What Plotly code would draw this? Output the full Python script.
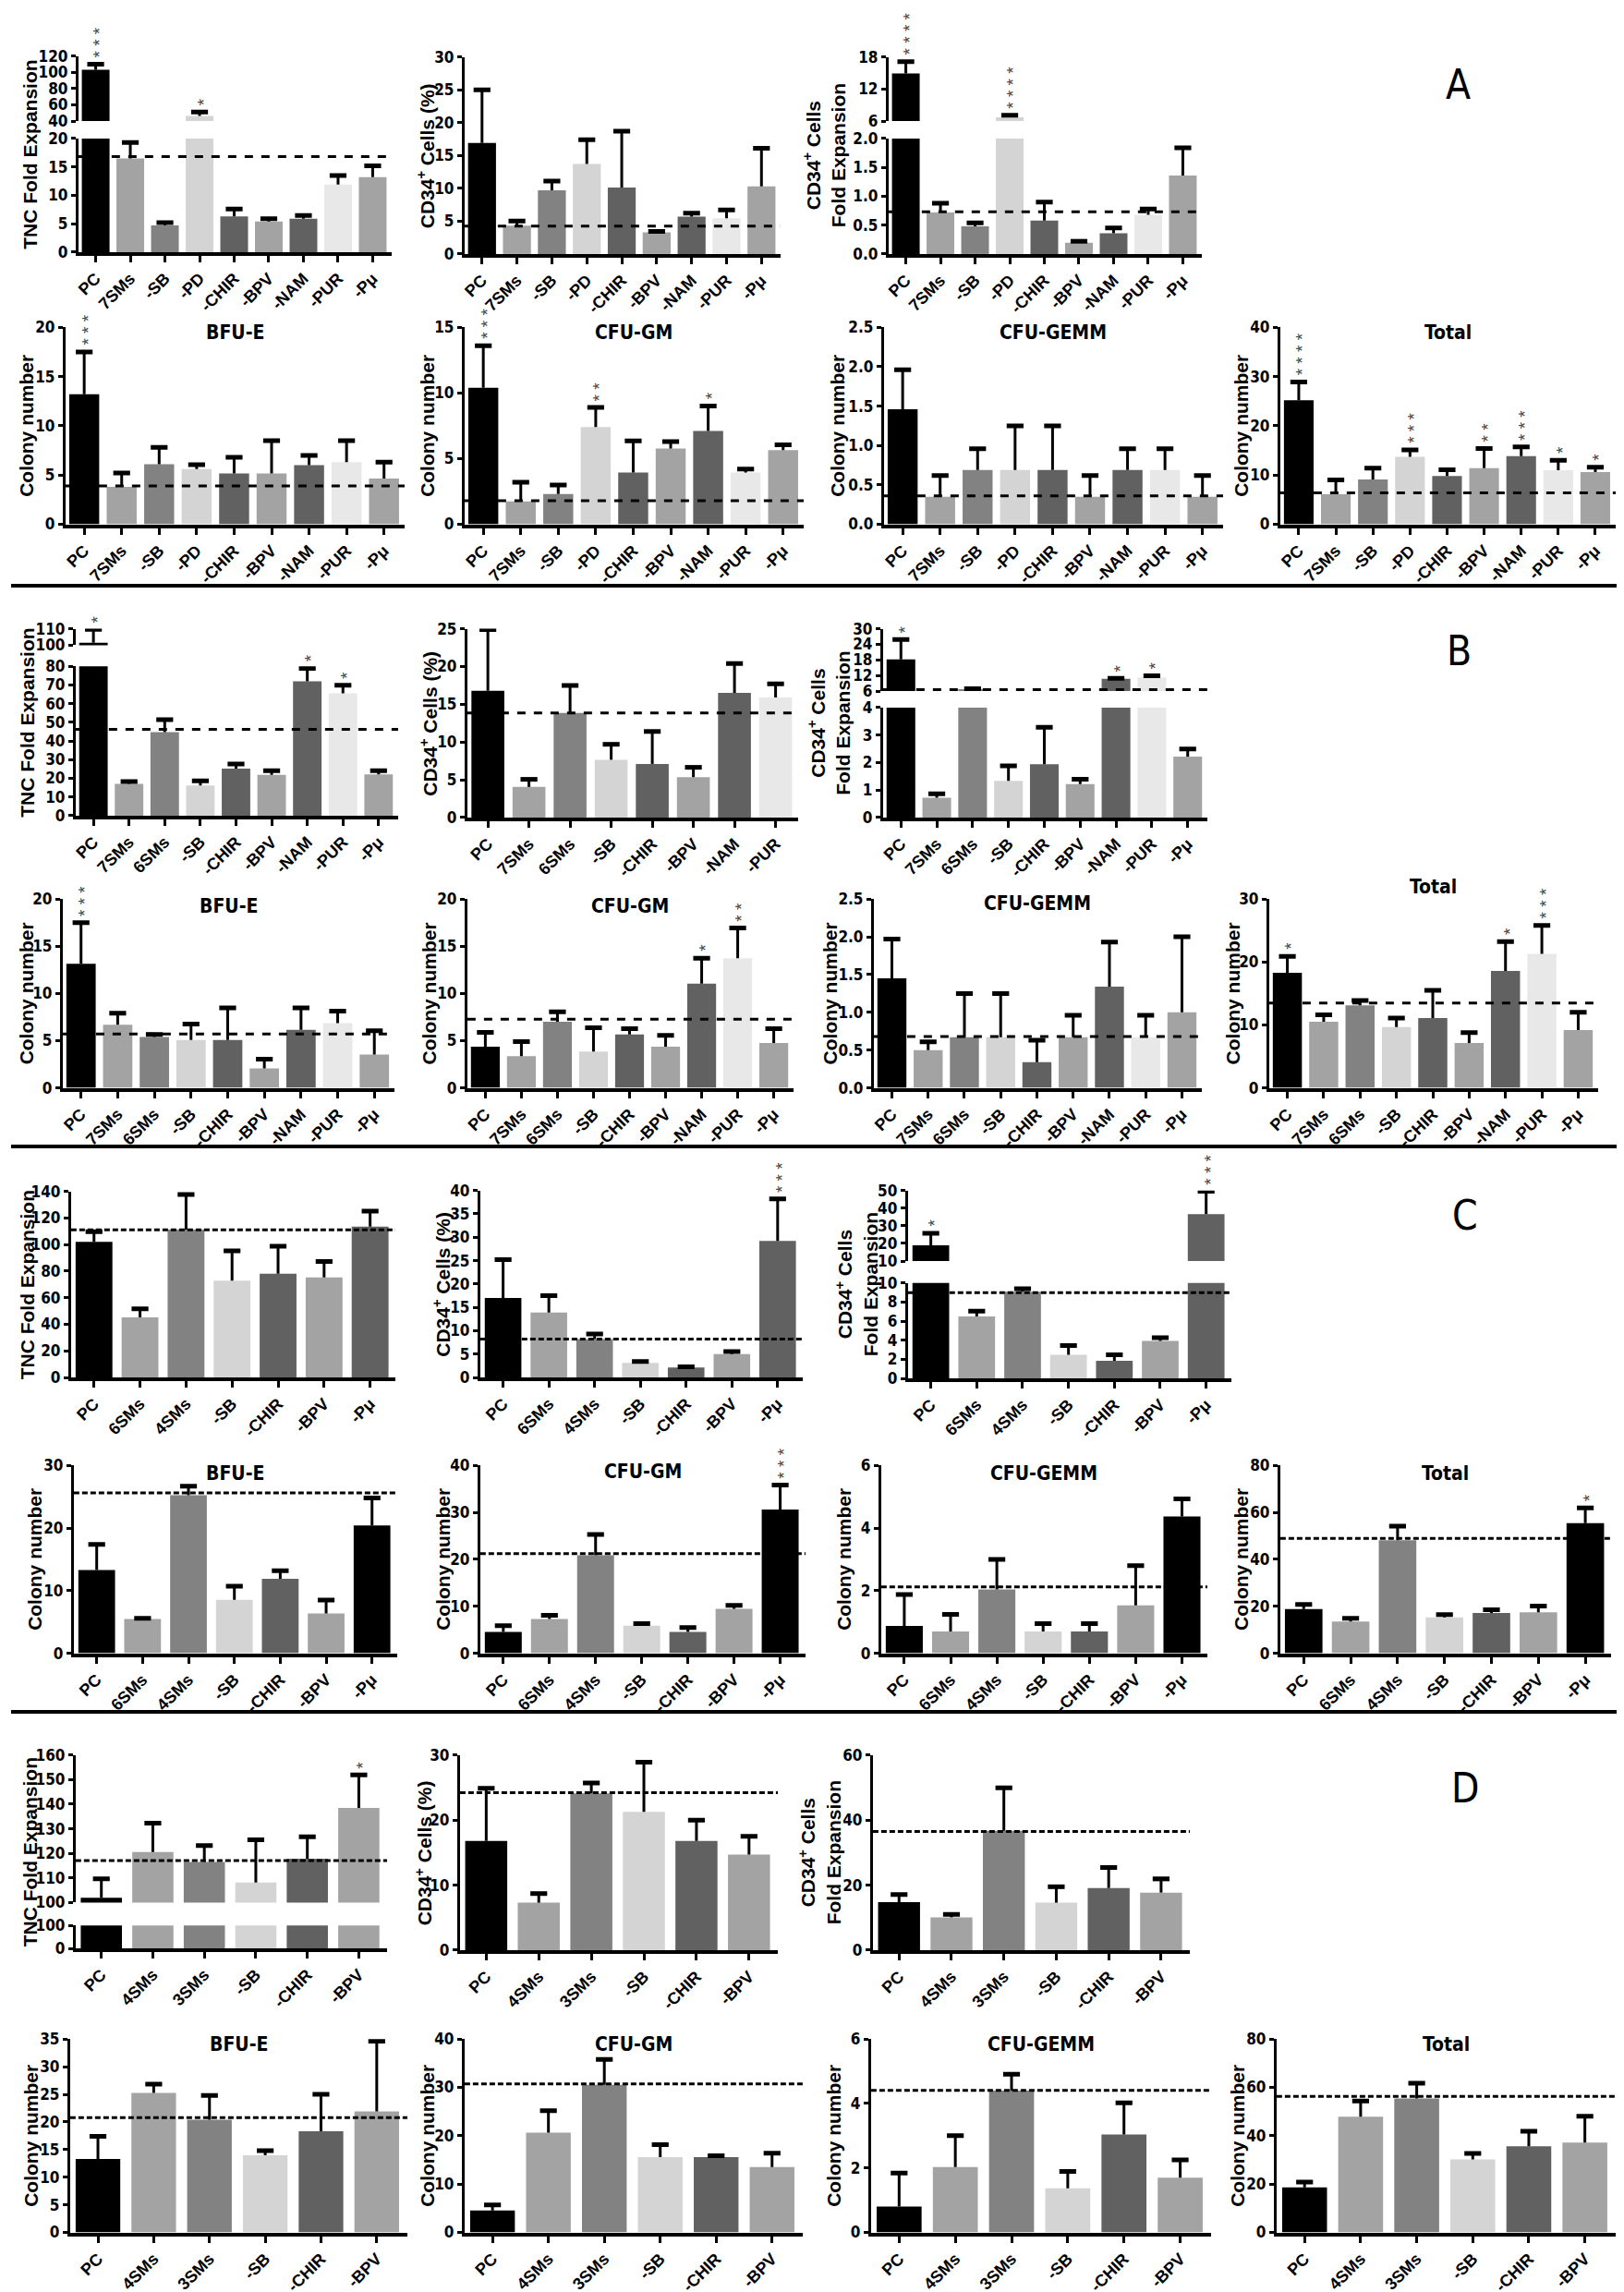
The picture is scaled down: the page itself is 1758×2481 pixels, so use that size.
import plotly.graph_objects as go

W, H = 1758, 2481

# ================= DATA =================
# ---- Section A ----
A_cats = ["PC", "7SMs", "-SB", "-PD", "-CHIR", "-BPV", "-NAM", "-PUR", "-Pμ"]
A_tnc = [103, 16.5, 4.7, 46.4, 6.3, 5.4, 5.9, 11.9, 13.2]
A_tnc_err = [110, 19.3, 5.2, 51.3, 7.6, 5.9, 6.45, 13.5, 15.2]
A_tnc_ctrl = 16.8
A_tnc_sig = [3, 0, 0, 1, 0, 0, 0, 0, 0]

A_cd34 = [16.9, 4.3, 9.7, 13.7, 10.1, 3.3, 5.7, 5.45, 10.3]
A_cd34_err = [25.0, 5.0, 11.1, 17.4, 18.7, 3.45, 6.2, 6.7, 16.1]
A_cd34_ctrl = 4.24
A_cd34_sig = [0, 0, 0, 0, 0, 0, 0, 0, 0]

A_fold = [14.9, 0.72, 0.48, 6.7, 0.58, 0.195, 0.36, 0.68, 1.36]
A_fold_err = [17.1, 0.88, 0.54, 7.1, 0.90, 0.22, 0.45, 0.78, 1.84]
A_fold_ctrl = 0.73
A_fold_sig = [4, 0, 0, 4, 0, 0, 0, 0, 0]

A_bfu = [13.2, 3.8, 6.1, 5.6, 5.15, 5.15, 6.0, 6.3, 4.65]
A_bfu_err = [17.5, 5.2, 7.8, 6.05, 6.8, 8.5, 7.0, 8.5, 6.3]
A_bfu_ctrl = 3.9
A_bfu_sig = [3, 0, 0, 0, 0, 0, 0, 0, 0]

A_gm = [10.4, 1.75, 2.3, 7.4, 3.95, 5.77, 7.1, 3.95, 5.65]
A_gm_err = [13.6, 3.2, 3.0, 8.9, 6.35, 6.3, 9.0, 4.2, 6.05]
A_gm_ctrl = 1.8
A_gm_sig = [3, 0, 0, 2, 0, 0, 1, 0, 0]

A_gemm = [1.46, 0.35, 0.69, 0.69, 0.69, 0.35, 0.69, 0.69, 0.35]
A_gemm_err = [1.96, 0.62, 0.96, 1.25, 1.25, 0.62, 0.96, 0.96, 0.62]
A_gemm_ctrl = 0.36
A_gemm_sig = [0, 0, 0, 0, 0, 0, 0, 0, 0]

A_tot = [25.2, 6.1, 9.1, 13.7, 9.8, 11.4, 13.85, 11.0, 10.6]
A_tot_err = [28.9, 9.0, 11.4, 15.1, 11.05, 15.4, 15.7, 13.0, 11.6]
A_tot_ctrl = 6.4
A_tot_sig = [4, 0, 0, 3, 0, 2, 3, 1, 1]

# ---- Section B ----
B_cats = ["PC", "7SMs", "6SMs", "-SB", "-CHIR", "-BPV", "-NAM", "-PUR", "-Pμ"]
B_tnc = [101.5, 17.0, 44.8, 16.2, 25.2, 21.9, 72.0, 65.6, 22.1]
B_tnc_err = [109.6, 18.3, 51.4, 18.7, 27.7, 24.1, 78.9, 69.9, 24.1]
B_tnc_ctrl = 46.2
B_tnc_sig = [1, 0, 0, 0, 0, 0, 1, 1, 0]

B_cd34_cats = ["PC", "7SMs", "6SMs", "-SB", "-CHIR", "-BPV", "-NAM", "-PUR"]
B_cd34 = [16.8, 4.05, 13.85, 7.65, 7.1, 5.35, 16.5, 15.9]
B_cd34_err = [24.9, 5.06, 17.5, 9.7, 11.4, 6.65, 20.4, 17.7]
B_cd34_ctrl = 13.85
B_cd34_sig = [0, 0, 0, 0, 0, 0, 0, 0]

B_fold = [18.2, 0.72, 6.7, 1.33, 1.94, 1.22, 10.7, 11.3, 2.22]
B_fold_err = [25.9, 0.86, 6.95, 1.88, 3.28, 1.39, 10.9, 11.9, 2.49]
B_fold_ctrl = 6.6
B_fold_sig = [1, 0, 0, 0, 0, 0, 1, 1, 0]

B_bfu = [13.15, 6.7, 5.4, 5.07, 5.07, 2.07, 6.14, 6.85, 3.52]
B_bfu_err = [17.5, 7.9, 5.65, 6.75, 8.47, 3.04, 8.47, 8.14, 6.04]
B_bfu_ctrl = 5.72
B_bfu_sig = [3, 0, 0, 0, 0, 0, 0, 0, 0]

B_gm = [4.36, 3.36, 7.01, 3.85, 5.65, 4.36, 11.05, 13.73, 4.75]
B_gm_err = [5.88, 4.91, 8.05, 6.37, 6.27, 5.56, 13.73, 16.93, 6.27]
B_gm_ctrl = 7.27
B_gm_sig = [0, 0, 0, 0, 0, 0, 1, 2, 0]

B_gemm = [1.45, 0.5, 0.67, 0.67, 0.34, 0.67, 1.34, 0.67, 1.0]
B_gemm_err = [1.97, 0.61, 1.25, 1.25, 0.63, 0.96, 1.93, 0.96, 2.0]
B_gemm_ctrl = 0.68
B_gemm_sig = [0, 0, 0, 0, 0, 0, 0, 0, 0]

B_tot = [18.3, 10.5, 13.1, 9.66, 11.1, 7.14, 18.6, 21.3, 9.2]
B_tot_err = [20.9, 11.6, 13.9, 11.1, 15.5, 8.8, 23.25, 25.8, 12.0]
B_tot_ctrl = 13.5
B_tot_sig = [1, 0, 0, 0, 0, 0, 1, 3, 0]

# ---- Section C ----
C_cats = ["PC", "6SMs", "4SMs", "-SB", "-CHIR", "-BPV", "-Pμ"]
C_tnc = [102.1, 45.2, 111.3, 72.8, 78.0, 75.3, 113.6]
C_tnc_err = [109.7, 51.6, 137.7, 95.2, 98.7, 87.2, 125.1]
C_tnc_ctrl = 111.1
C_tnc_sig = [0, 0, 0, 0, 0, 0, 0]

C_cd34 = [17.0, 13.9, 8.2, 3.1, 2.15, 5.0, 29.2]
C_cd34_err = [25.2, 17.5, 9.3, 3.4, 2.3, 5.55, 38.2]
C_cd34_ctrl = 8.2
C_cd34_sig = [0, 0, 0, 0, 0, 0, 3]

C_fold = [18.9, 6.5, 9.1, 2.48, 1.84, 3.94, 36.6]
C_fold_err = [25.8, 7.06, 9.4, 3.45, 2.48, 4.26, 49.5]
C_fold_ctrl = 9.0
C_fold_sig = [1, 0, 0, 0, 0, 0, 3]

C_bfu = [13.3, 5.47, 25.25, 8.55, 11.9, 6.35, 20.4]
C_bfu_err = [17.4, 5.6, 26.7, 10.7, 13.2, 8.5, 24.8]
C_bfu_ctrl = 25.6
C_bfu_sig = [0, 0, 0, 0, 0, 0, 0]

C_gm = [4.56, 7.3, 20.85, 5.86, 4.56, 9.45, 30.6]
C_gm_err = [5.86, 8.08, 25.3, 6.3, 5.47, 10.2, 35.8]
C_gm_ctrl = 21.2
C_gm_sig = [0, 0, 0, 0, 0, 0, 3]

C_gemm = [0.87, 0.7, 2.04, 0.7, 0.7, 1.53, 4.37]
C_gemm_err = [1.88, 1.24, 3.0, 0.95, 0.95, 2.8, 4.93]
C_gemm_ctrl = 2.12
C_gemm_sig = [0, 0, 0, 0, 0, 0, 0]

C_tot = [18.8, 13.55, 48.1, 15.25, 17.2, 17.45, 55.4]
C_tot_err = [20.8, 14.85, 54.1, 16.5, 18.5, 20.1, 61.9]
C_tot_ctrl = 48.9
C_tot_sig = [0, 0, 0, 0, 0, 0, 1]

# ---- Section D ----
D_cats = ["PC", "4SMs", "3SMs", "-SB", "-CHIR", "-BPV"]
D_tnc = [101.9, 120.5, 116.5, 108.1, 117.8, 138.5]
D_tnc_err = [109.6, 132.3, 123.2, 125.5, 126.7, 151.9]
D_tnc_ctrl = 117.1
D_tnc_sig = [0, 0, 0, 0, 0, 1]

D_cd34 = [16.8, 7.3, 24.1, 21.25, 16.8, 14.7]
D_cd34_err = [24.9, 8.7, 25.7, 28.9, 20.0, 17.5]
D_cd34_ctrl = 24.2
D_cd34_sig = [0, 0, 0, 0, 0, 0]

D_fold = [14.8, 10.1, 36.7, 14.6, 19.1, 17.7]
D_fold_err = [17.1, 11.0, 49.9, 19.5, 25.4, 21.9]
D_fold_ctrl = 36.5
D_fold_sig = [0, 0, 0, 0, 0, 0]

D_bfu = [13.3, 25.25, 20.4, 13.95, 18.3, 21.9]
D_bfu_err = [17.4, 26.85, 24.8, 14.8, 25.0, 34.6]
D_bfu_ctrl = 20.8
D_bfu_sig = [0, 0, 0, 0, 0, 0]

D_gm = [4.54, 20.66, 30.55, 15.56, 15.56, 13.54]
D_gm_err = [5.67, 25.2, 35.8, 18.14, 15.87, 16.4]
D_gm_ctrl = 30.74
D_gm_sig = [0, 0, 0, 0, 0, 0]

D_gemm = [0.8, 2.03, 4.4, 1.37, 3.04, 1.7]
D_gemm_err = [1.84, 3.0, 4.91, 1.89, 4.02, 2.25]
D_gemm_ctrl = 4.41
D_gemm_sig = [0, 0, 0, 0, 0, 0]

D_tot = [18.6, 47.9, 55.4, 30.2, 35.6, 37.2]
D_tot_err = [20.8, 54.4, 61.7, 32.7, 41.9, 48.1]
D_tot_ctrl = 56.3
D_tot_sig = [0, 0, 0, 0, 0, 0]

# ================= STYLE =================
K, G1, G2, G3, G4, G5 = "#000000", "#a3a3a3", "#828282", "#d4d4d4", "#616161", "#e8e8e8"
PAL9 = [K, G1, G2, G3, G4, G1, G4, G5, G1]
PAL_C1 = [K, G1, G2, G3, G4, G1, G4]
PAL_C2 = [K, G1, G2, G3, G4, G1, K]
PAL_D = [K, G1, G2, G3, G4, G1]

NARROW = "Liberation Sans Narrow, Arial Narrow, DejaVu Sans Condensed, Liberation Sans, sans-serif"
SANS = "Liberation Sans, Arial, sans-serif"
YTICKFONT = dict(family=NARROW, size=17, color="black", weight="bold")
XTICKFONT = dict(family=SANS, size=18, color="black", weight="bold")
YTITLEFONT = dict(family=SANS, size=21, color="black", weight="bold")
PTITLEFONT = dict(family=NARROW, size=21, color="black", weight="bold")
STARFONT = dict(family=SANS, size=19, color="#444444")

CD34P = "CD34<sup>+</sup> Cells (%)"
CD34F = "CD34<sup>+</sup> Cells<br>Fold Expansion"
TNC = "TNC Fold Expansion"
COL = "Colony number"

fig = go.Figure()
layout = {}
annotations = []
shapes = []
n_ax = [0]


def new_axes(xpx, ytop, ybot, xr, yr, dt, fmt, show_x, cats):
    n_ax[0] += 1
    s = "" if n_ax[0] == 1 else str(n_ax[0])
    xa = dict(domain=[xpx[0] / W, xpx[1] / W], anchor="y" + s, range=xr,
              showline=True, linecolor="black", linewidth=4, ticks="outside",
              ticklen=7, tickwidth=3, tickcolor="black",
              tickvals=list(range(len(cats))), ticktext=cats, tickangle=-45,
              tickfont=XTICKFONT, showgrid=False, zeroline=False, fixedrange=True)
    if not show_x:
        xa["visible"] = False
    ya = dict(domain=[1 - ybot / H, 1 - ytop / H], anchor="x" + s, range=yr,
              showline=True, linecolor="black", linewidth=3, ticks="outside",
              ticklen=5, tickwidth=3, tickcolor="black", tick0=0, dtick=dt,
              tickfont=YTICKFONT, showgrid=False, zeroline=False, fixedrange=True)
    if fmt:
        ya["tickformat"] = fmt
    layout["xaxis" + s] = xa
    layout["yaxis" + s] = ya
    return "x" + s, "y" + s


def panel(cats, vals, errs, ctrl, sig, colors, xpx, segs, ytitle, tdx,
          title=None, ty=None, dash="dash"):
    n = len(cats)
    idx = list(range(n))
    xr = [-0.5, n - 0.45]
    sx, sy = [], []
    for i in idx:
        sx += [i, i, None]
        sy += [vals[i], errs[i], None]
    axes = []
    for k, (yr, ytop, ybot, dt, fmt) in enumerate(segs):
        xa, ya = new_axes(xpx, ytop, ybot, xr, yr, dt, fmt, k == 0, cats)
        axes.append((xa, ya, yr))
        fig.add_trace(go.Bar(x=idx, y=vals, width=0.8,
                             marker=dict(color=colors, line=dict(width=0)),
                             xaxis=xa, yaxis=ya, hoverinfo="skip"))
        if yr[0] <= ctrl <= yr[1]:
            fig.add_trace(go.Scatter(x=xr, y=[ctrl, ctrl], mode="lines",
                                     line=dict(color="black", width=3, dash=dash),
                                     xaxis=xa, yaxis=ya, hoverinfo="skip"))
        fig.add_trace(go.Scatter(x=sx, y=sy, mode="lines",
                                 line=dict(color="black", width=3),
                                 xaxis=xa, yaxis=ya, hoverinfo="skip"))
        cx = [i for i in idx if yr[0] <= errs[i] <= yr[1]]
        cy = [errs[i] for i in cx]
        fig.add_trace(go.Scatter(x=cx, y=cy, mode="markers",
                                 marker=dict(symbol="line-ew", size=13,
                                             line=dict(width=5, color="black")),
                                 xaxis=xa, yaxis=ya, hoverinfo="skip"))
    for i in idx:
        if sig[i]:
            for xa, ya, yr in axes:
                if yr[0] <= errs[i] <= yr[1]:
                    annotations.append(dict(x=i, y=errs[i], xref=xa, yref=ya,
                                            text=" ".join(["*"] * sig[i]),
                                            textangle=-90, showarrow=False,
                                            xanchor="center", yanchor="bottom",
                                            xshift=4, yshift=5, font=STARFONT))
                    break
    ytop_all = min(s[1] for s in segs)
    ybot_all = max(s[2] for s in segs)
    annotations.append(dict(x=(xpx[0] - tdx) / W, y=1 - (ytop_all + ybot_all) / 2 / H,
                            xref="paper", yref="paper", text=ytitle, textangle=-90,
                            showarrow=False, font=YTITLEFONT,
                            xanchor="center", yanchor="middle"))
    if title:
        annotations.append(dict(x=(xpx[0] + xpx[1]) / 2 / W, y=1 - ty / H,
                                xref="paper", yref="paper", text=title,
                                showarrow=False, font=PTITLEFONT,
                                xanchor="center", yanchor="middle"))


# ---------- Section A ----------
panel(A_cats, A_tnc, A_tnc_err, A_tnc_ctrl, A_tnc_sig, PAL9, (73, 413),
      [([0, 20], 133, 257, 5, None), ([40, 120], 43, 114, 20, None)], TNC, 52)
panel(A_cats, A_cd34, A_cd34_err, A_cd34_ctrl, A_cd34_sig, PAL9, (492, 835),
      [([0, 30], 44, 259, 5, None)], CD34P, 42)
panel(A_cats, A_fold, A_fold_err, A_fold_ctrl, A_fold_sig, PAL9, (952, 1292),
      [([0, 2], 133, 259, 0.5, ".1f"), ([6, 18], 44, 114, 6, None)], CD34F, 70)
panel(A_cats, A_bfu, A_bfu_err, A_bfu_ctrl, A_bfu_sig, PAL9, (59, 427),
      [([0, 20], 339, 554, 5, None)], COL, 42, "BFU-E", 345)
panel(A_cats, A_gm, A_gm_err, A_gm_ctrl, A_gm_sig, PAL9, (492, 860),
      [([0, 15], 339, 554, 5, None)], COL, 40, "CFU-GM", 345)
panel(A_cats, A_gemm, A_gemm_err, A_gemm_ctrl, A_gemm_sig, PAL9, (947, 1315),
      [([0, 2.5], 339, 554, 0.5, ".1f")], COL, 50, "CFU-GEMM", 345)
panel(A_cats, A_tot, A_tot_err, A_tot_ctrl, A_tot_sig, PAL9, (1377, 1741),
      [([0, 40], 339, 554, 10, None)], COL, 42, "Total", 345)

# ---------- Section B ----------
panel(B_cats, B_tnc, B_tnc_err, B_tnc_ctrl, B_tnc_sig, PAL9, (70, 420),
      [([0, 80], 709, 872, 10, None), ([100, 110], 668, 686, 10, None)], TNC, 52)
panel(B_cd34_cats, B_cd34, B_cd34_err, B_cd34_ctrl, B_cd34_sig, PAL9[:8], (495, 854),
      [([0, 25], 668, 874, 5, None)], CD34P, 42)
panel(B_cats, B_fold, B_fold_err, B_fold_ctrl, B_fold_sig, PAL9, (946, 1298),
      [([0, 4], 754, 874, 1, None), ([6, 30], 668, 736, 6, None)], CD34F, 58)
panel(B_cats, B_bfu, B_bfu_err, B_bfu_ctrl, B_bfu_sig, PAL9, (56, 416),
      [([0, 20], 963, 1169, 5, None)], COL, 40, "BFU-E", 971)
panel(B_cats, B_gm, B_gm_err, B_gm_ctrl, B_gm_sig, PAL9, (495, 849),
      [([0, 20], 963, 1169, 5, None)], COL, 42, "CFU-GM", 971)
panel(B_cats, B_gemm, B_gemm_err, B_gemm_ctrl, B_gemm_sig, PAL9, (936, 1292),
      [([0, 2.5], 963, 1169, 0.5, ".1f")], COL, 48, "CFU-GEMM", 968)
panel(B_cats, B_tot, B_tot_err, B_tot_ctrl, B_tot_sig, PAL9, (1365, 1722),
      [([0, 30], 963, 1169, 10, None)], COL, 40, "Total", 950)

# ---------- Section C ----------
DC = "6px,3px"
panel(C_cats, C_tnc, C_tnc_err, C_tnc_ctrl, C_tnc_sig, PAL_C1, (65, 417),
      [([0, 140], 1282, 1485, 20, None)], TNC, 48, dash=DC)
panel(C_cats, C_cd34, C_cd34_err, C_cd34_ctrl, C_cd34_sig, PAL_C1, (509, 859),
      [([0, 40], 1281, 1485, 5, None)], CD34P, 42, dash=DC)
panel(C_cats, C_fold, C_fold_err, C_fold_ctrl, C_fold_sig, PAL_C1, (973, 1324),
      [([0, 10], 1382, 1486, 2, None), ([10, 50], 1281, 1358, 10, None)], CD34F, 56, dash=DC)
panel(C_cats, C_bfu, C_bfu_err, C_bfu_ctrl, C_bfu_sig, PAL_C2, (68, 419),
      [([0, 30], 1581, 1786, 10, None)], COL, 42, "BFU-E", 1590, dash=DC)
panel(C_cats, C_gm, C_gm_err, C_gm_ctrl, C_gm_sig, PAL_C2, (509, 862),
      [([0, 40], 1581, 1786, 10, None)], COL, 40, "CFU-GM", 1588, dash=DC)
panel(C_cats, C_gemm, C_gemm_err, C_gemm_ctrl, C_gemm_sig, PAL_C2, (944, 1298),
      [([0, 6], 1581, 1786, 2, None)], COL, 40, "CFU-GEMM", 1590, dash=DC)
panel(C_cats, C_tot, C_tot_err, C_tot_ctrl, C_tot_sig, PAL_C2, (1377, 1736),
      [([0, 80], 1581, 1786, 20, None)], COL, 42, "Total", 1590, dash=DC)

# ---------- Section D ----------
panel(D_cats, D_tnc, D_tnc_err, D_tnc_ctrl, D_tnc_sig, PAL_D, (70, 408),
      [([0, 100], 2083, 2108, 100, None), ([100, 160], 1897, 2058, 10, None)], TNC, 50, dash=DC)
panel(D_cats, D_cd34, D_cd34_err, D_cd34_ctrl, D_cd34_sig, PAL_D, (487, 832),
      [([0, 30], 1897, 2110, 10, None)], CD34P, 39, dash=DC)
panel(D_cats, D_fold, D_fold_err, D_fold_ctrl, D_fold_sig, PAL_D, (935, 1279),
      [([0, 60], 1897, 2110, 20, None)], CD34F, 58, dash=DC)
panel(D_cats, D_bfu, D_bfu_err, D_bfu_ctrl, D_bfu_sig, PAL_D, (64, 430),
      [([0, 35], 2207, 2418, 5, None)], COL, 42, "BFU-E", 2213, dash=DC)
panel(D_cats, D_gm, D_gm_err, D_gm_ctrl, D_gm_sig, PAL_D, (492, 859),
      [([0, 40], 2207, 2418, 10, None)], COL, 40, "CFU-GM", 2213, dash=DC)
panel(D_cats, D_gemm, D_gemm_err, D_gemm_ctrl, D_gemm_sig, PAL_D, (933, 1302),
      [([0, 6], 2207, 2418, 2, None)], COL, 40, "CFU-GEMM", 2213, dash=DC)
panel(D_cats, D_tot, D_tot_err, D_tot_ctrl, D_tot_sig, PAL_D, (1373, 1741),
      [([0, 80], 2207, 2418, 20, None)], COL, 42, "Total", 2213, dash=DC)

# section letters
for letter, lx, ly in [("A", 1570, 74), ("B", 1571, 692), ("C", 1578, 1308), ("D", 1578, 1933)]:
    annotations.append(dict(x=lx / W, y=1 - ly / H, xref="paper", yref="paper", text=letter,
                            showarrow=False, xanchor="center", yanchor="middle",
                            font=dict(family=NARROW, size=44, color="black")))

# separators
for sy in [621, 1233, 1850]:
    shapes.append(dict(type="line", xref="paper", yref="paper", x0=0, x1=1,
                       y0=1 - sy / H, y1=1 - sy / H, line=dict(color="black", width=4)))

fig.update_layout(**layout)
fig.update_layout(width=W, height=H, margin=dict(l=0, r=0, t=0, b=0),
                  paper_bgcolor="white", plot_bgcolor="white", showlegend=False,
                  hovermode=False, annotations=annotations, shapes=shapes,
                  bargap=0.2)
fig.write_html("out.html")
